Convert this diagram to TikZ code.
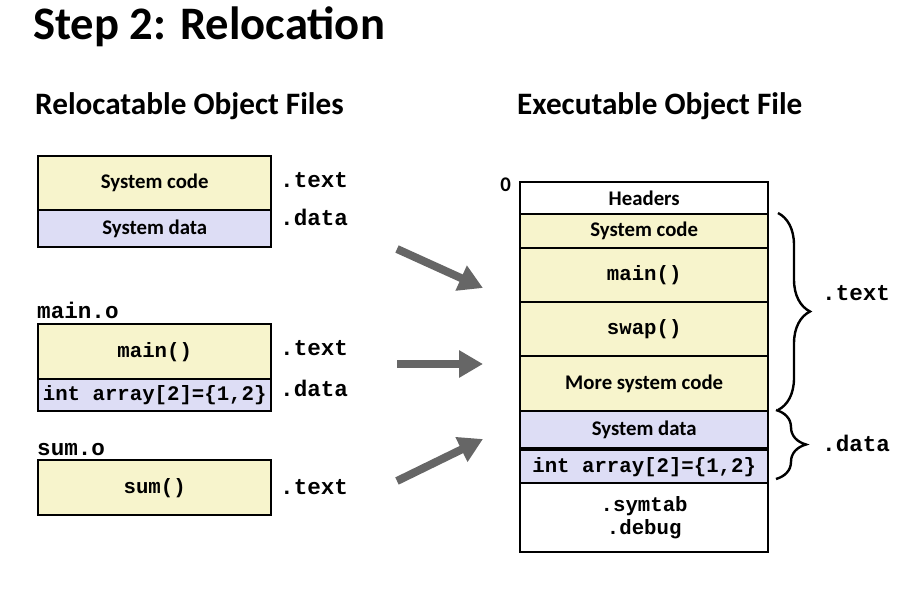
\documentclass[tikz,border=0pt]{standalone}
\usepackage{fontspec}
\setmainfont{Carlito}
\setmonofont{Liberation Mono}
\usetikzlibrary{arrows.meta,decorations.pathreplacing}
\definecolor{codefill}{RGB}{247,244,204}
\definecolor{datafill}{RGB}{221,221,245}
\definecolor{arrowgray}{RGB}{102,102,102}
\begin{document}
\begin{tikzpicture}[x=1pt,y=-1pt,
  sect/.style={draw=black, line width=2.4pt, anchor=north west, inner sep=0pt,
    font=\fontsize{20.8}{23}\selectfont\bfseries},
  codesec/.style={sect, fill=codefill},
  datasec/.style={sect, fill=datafill},
  plainsec/.style={sect, fill=white},
  mono/.style={font=\fontsize{20.7}{23}\selectfont\ttfamily\bfseries},
  seclabel/.style={anchor=base west, inner sep=0pt, font=\fontsize{22.6}{24}\selectfont\ttfamily\bfseries},
  heading/.style={anchor=base west, inner sep=0pt, font=\fontsize{31.2}{33}\selectfont\bfseries},
  move/.style={arrowgray, line width=8pt, -{Triangle[length=24pt,width=26pt]}},
  brc/.style={decorate, decoration={brace, amplitude=32pt}, line width=2.4pt}
]
\useasboundingbox (0,0) rectangle (903,608);

% title and headings
\node[anchor=base west, inner sep=0pt, font=\fontsize{46.6}{50}\selectfont\bfseries] (title) at (33,39) {Step 2: Relocation};
\node[heading] (hrel) at (35,114) {Relocatable Object Files};
\node[heading] (hexe) at (517,114) {Executable Object File};

% relocatable object files
\node[codesec, minimum width=233, minimum height=54] (lsc) at (37,155) {System code};
\node[datasec, minimum width=233, minimum height=37] (lsd) at (37,209) {System data};
\node[seclabel] (l1t) at (280,187) {.text};
\node[seclabel] (l1d) at (280,225) {.data};

\node[seclabel] (mo) at (37,318) {main.o};
\node[codesec, minimum width=233, minimum height=55, mono] (lmain) at (37,323) {main()};
\node[datasec, minimum width=233, minimum height=32, mono] (larr) at (37,378) {int array[2]=\{1,2\}};
\node[seclabel] (l2t) at (280,355) {.text};
\node[seclabel] (l2d) at (280,396) {.data};

\node[seclabel] (so) at (37,455) {sum.o};
\node[codesec, minimum width=233, minimum height=55, mono] (lsum) at (37,459) {sum()};
\node[seclabel] (l3t) at (280,494) {.text};

% executable object file
\node[anchor=base east, inner sep=0pt, font=\fontsize{20.8}{22}\selectfont\bfseries] (zero) at (511,191) {0};
\node[plainsec, minimum width=248, minimum height=32] (hdr) at (519,181) {Headers};
\node[codesec, minimum width=248, minimum height=34] (esc) at (519,213) {System code};
\node[codesec, minimum width=248, minimum height=54, mono] (emain) at (519,247) {main()};
\node[codesec, minimum width=248, minimum height=54, mono] (eswap) at (519,301) {swap()};
\node[codesec, minimum width=248, minimum height=55] (emore) at (519,355) {More system code};
\node[datasec, minimum width=248, minimum height=37] (esd) at (519,410) {System data};
\node[datasec, minimum width=248, minimum height=33, mono] (earr) at (519,449) {int array[2]=\{1,2\}};
\node[plainsec, minimum width=248, minimum height=69, mono, align=center] (esym) at (519,482) {.symtab\\.debug};

% braces grouping the sections
\coordinate (tb1) at (778,213);
\coordinate (tb2) at (778,410);
\coordinate (db1) at (776,410);
\coordinate (db2) at (776,479);
\draw[brc] (tb1) -- (tb2);
\draw[brc, decoration={amplitude=30pt}] (db1) -- (db2);
\node[seclabel] (et) at (822,300) {.text};
\node[seclabel] (ed) at (822,451) {.data};

% relocation arrows
\coordinate (a1s) at (397,249);
\coordinate (a1e) at (483,288);
\coordinate (a2s) at (397,364);
\coordinate (a2e) at (483,364);
\coordinate (a3s) at (397,481);
\coordinate (a3e) at (483,439);
\draw[move] (a1s) -- (a1e);
\draw[move] (a2s) -- (a2e);
\draw[move] (a3s) -- (a3e);
\end{tikzpicture}
\end{document}
